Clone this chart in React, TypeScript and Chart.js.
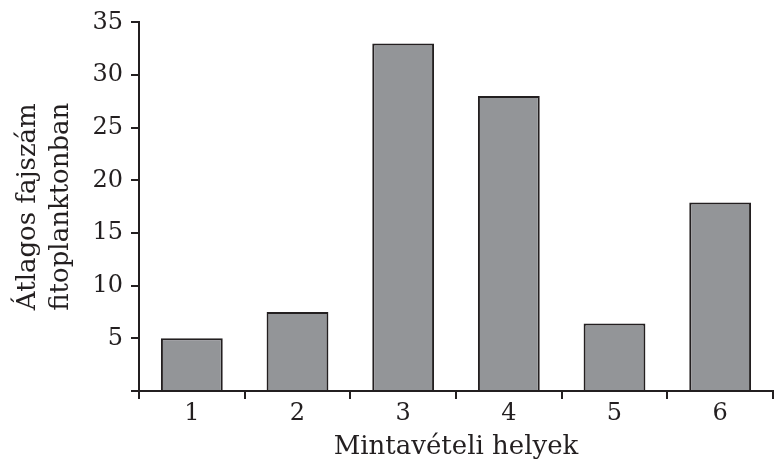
import React, { useEffect, useRef } from "react";
import { Chart, registerables } from "chart.js";

Chart.register(...registerables);

const categories = ["1", "2", "3", "4", "5", "6"];
const values = [5.0, 7.5, 33.0, 28.0, 6.4, 17.9];
const yTicks = [0, 5, 10, 15, 20, 25, 30, 35];
const yTitle = ["Átlagos fajszám", "fitoplanktonban"];
const xTitle = "Mintavételi helyek";

const INK = "#231f20";
const FONT = "'DejaVu Serif', serif";

export default function App() {
  const ref = useRef<HTMLCanvasElement>(null);
  useEffect(() => {
    const chart = new Chart(ref.current!, {
      type: "bar",
      data: {
        labels: categories,
        datasets: [
          {
            data: values,
            backgroundColor: "#939598",
            borderColor: INK,
            borderWidth: 2,
            categoryPercentage: 1,
            barPercentage: 0.585,
          },
        ],
      },
      options: {
        responsive: false,
        animation: false,
        layout: { padding: { top: 9, right: 1, left: 0, bottom: 0 } },
        plugins: { legend: { display: false }, tooltip: { enabled: false } },
        scales: {
          x: {
            offset: true,
            grid: {
              offset: true,
              drawOnChartArea: false,
              drawTicks: true,
              tickLength: 8,
              color: INK,
              lineWidth: 2,
            },
            border: { display: true, color: INK, width: 2 },
            ticks: { color: INK, font: { family: FONT, size: 24 }, padding: 0, maxRotation: 0 },
            title: {
              display: true,
              text: xTitle,
              color: INK,
              font: { family: FONT, size: 26, lineHeight: 1.2 },
              padding: { top: 0, bottom: 3 },
            },
            afterFit: (s: any) => {
              s.height = 75;
            },
          },
          y: {
            min: 0,
            max: 35,
            afterBuildTicks: (s: any) => {
              s.ticks = yTicks.map((v) => ({ value: v }));
            },
            grid: {
              drawOnChartArea: false,
              drawTicks: true,
              tickLength: 8,
              color: INK,
              lineWidth: 2,
            },
            border: { display: true, color: INK, width: 2 },
            ticks: {
              color: INK,
              font: { family: FONT, size: 24 },
              padding: 8,
              callback: (v: any) => (v === 0 ? "" : String(v)),
            },
            title: {
              display: true,
              text: yTitle,
              color: INK,
              font: { family: FONT, size: 26, lineHeight: 1.27 },
              padding: { top: 12, bottom: 0 },
            },
            afterFit: (s: any) => {
              s.width = 139;
            },
          },
        },
      },
    });
    return () => chart.destroy();
  }, []);
  return (
    <div style={{ position: "absolute", left: 0, top: 0, width: 774, height: 466 }}>
      <canvas ref={ref} width={774} height={466} />
    </div>
  );
}
